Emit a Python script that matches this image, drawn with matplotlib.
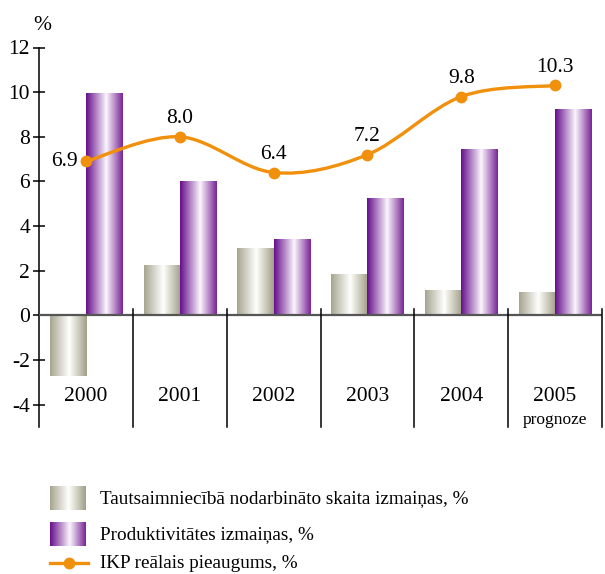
import numpy as np
import matplotlib
matplotlib.use('Agg')
import matplotlib.pyplot as plt
from matplotlib.colors import LinearSegmentedColormap
from matplotlib.path import Path
from matplotlib.patches import PathPatch

years = ['2000', '2001', '2002', '2003', '2004', '2005']
employment = [-2.7, 2.2, 3.0, 1.8, 1.1, 1.0]
productivity = [9.9, 6.0, 3.4, 5.2, 7.4, 9.2]
gdp = [6.9, 8.0, 6.4, 7.2, 9.8, 10.3]
yticks = [-4, -2, 0, 2, 4, 6, 8, 10, 12]
legend_labels = ['Tautsaimniecībā nodarbināto skaita izmaiņas, %',
                 'Produktivitātes izmaiņas, %',
                 'IKP reālais pieaugums, %']

plt.rcParams['font.family'] = ['Liberation Serif', 'DejaVu Serif']

gray_cm = LinearSegmentedColormap.from_list(
    'g', [(0, '#a7a58f'), (0.52, '#ffffff'), (0.6, '#f0f0e8'), (1, '#a19f89')])
purp_cm = LinearSegmentedColormap.from_list(
    'p', [(0, '#660e8b'), (0.55, '#fbf6fc'), (1, '#782596')])
grad = np.linspace(0, 1, 128).reshape(1, -1)
orange = '#f0900c'

W, H = 605, 574
fig = plt.figure(figsize=(W / 100, H / 100), dpi=100)
ax = fig.add_axes([39 / W, 1 - 427 / H, (602 - 39) / W, (427 - 47.5) / H])

x = np.arange(len(years))
bw = 0.385


def grad_bars(bars, cmap):
    for b in bars:
        x0, y0 = b.get_x(), b.get_y()
        ax.imshow(grad, cmap=cmap, aspect='auto', interpolation='bilinear',
                  extent=[x0, x0 + b.get_width(), y0, y0 + b.get_height()],
                  zorder=2)


b1 = ax.bar(x - bw / 2, employment, bw, color='none', linewidth=0)
b2 = ax.bar(x + bw / 2, productivity, bw, color='none', linewidth=0)
grad_bars(b1, gray_cm)
grad_bars(b2, purp_cm)

# smooth line (catmull-rom as bezier)
pts = np.column_stack([x, gdp]).astype(float)
ext = np.vstack([pts[0], pts, pts[-1]])
verts = [tuple(pts[0])]
codes = [Path.MOVETO]
for i in range(len(pts) - 1):
    p0, p1, p2, p3 = ext[i], ext[i + 1], ext[i + 2], ext[i + 3]
    c1 = p1 + (p2 - p0) / 6
    c2 = p2 - (p3 - p1) / 6
    verts += [tuple(c1), tuple(c2), tuple(p2)]
    codes += [Path.CURVE4] * 3
ax.add_patch(PathPatch(Path(verts, codes), facecolor='none', edgecolor=orange,
                       lw=2.4, zorder=4, capstyle='round'))
ax.plot(x, gdp, 'o', color=orange, ms=7.5, zorder=5)
for i, v in enumerate(gdp):
    if i == 0:
        ax.text(x[i] - 0.09, v, f'{v:.1f}', ha='right', va='center', fontsize=15.5)
    else:
        ax.text(x[i], v + 0.4, f'{v:.1f}', ha='center', va='bottom', fontsize=15.5)

ax.axhline(0, color='#555555', lw=1.6, zorder=3)
for s in np.arange(0.5, 6, 1):
    ax.plot([s, s], [-5, 0.3], color='black', lw=1.1, clip_on=False, zorder=3)
for i, y in enumerate(years):
    ax.text(x[i], -3.65, y, ha='center', va='center', fontsize=15.5)
ax.text(x[-1], -4.7, 'prognoze', ha='center', va='center', fontsize=12.5)

ax.set_xlim(-0.5, 5.5)
ax.set_ylim(-5, 12)
ax.set_xticks([])
ax.set_yticks(yticks)
ax.set_yticklabels([str(t) for t in yticks], fontsize=15.5)
ax.tick_params(axis='y', direction='inout', length=9, width=1.1, pad=2)
for sp in ['top', 'right', 'bottom']:
    ax.spines[sp].set_visible(False)
ax.spines['left'].set_linewidth(1.1)
ax.patch.set_alpha(0)
fig.text(42 / W, 1 - 25 / H, '%', ha='center', va='center', fontsize=15.5)

# legend
lax = fig.add_axes([0, 0, 1, 100 / H])
lax.axis('off')
lax.imshow(grad, cmap=gray_cm, aspect='auto', extent=[50, 86, 510, 486])
lax.imshow(grad, cmap=purp_cm, aspect='auto', extent=[50, 86, 546, 522])
lax.plot([50, 88], [563, 563], color=orange, lw=2.4)
lax.plot([69], [563], 'o', color=orange, ms=7.5)
for yy, lab in zip([499, 535, 563], legend_labels):
    lax.text(100, yy, lab, ha='left', va='center', fontsize=13.8)
lax.set_xlim(0, W)
lax.set_ylim(H, H - 100)

fig.savefig('out.png', dpi=100)
